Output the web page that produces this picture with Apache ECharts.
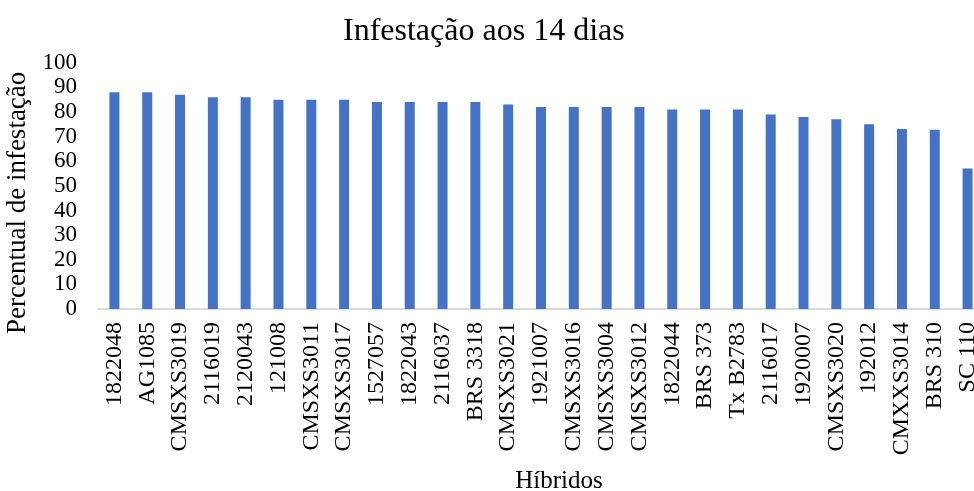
<!DOCTYPE html>
<html>
<head>
<meta charset="utf-8">
<script src="https://cdn.jsdelivr.net/npm/echarts@6/dist/echarts.min.js"></script>
<style>
  html, body { margin: 0; padding: 0; background: #fff; }
  #chart { width: 974px; height: 491px; }
</style>
</head>
<body>
<div id="chart"></div>
<script>
// hybrid names on the x axis
const hybrids = [
  '1822048', 'AG1085', 'CMSXS3019', '2116019', '2120043', '121008',
  'CMSXS3011', 'CMSXS3017', '1527057', '1822043', '2116037', 'BRS 3318',
  'CMSXS3021', '1921007', 'CMSXS3016', 'CMSXS3004', 'CMSXS3012', '1822044',
  'BRS 373', 'Tx B2783', '2116017', '1920007', 'CMSXS3020', '192012',
  'CMXXS3014', 'BRS 310', 'SC 110'
];
// percentual de infestação aos 14 dias
const infestacao = [
  88, 88, 87, 86, 86, 85,
  85, 85, 84, 84, 84, 84,
  83, 82, 82, 82, 82, 81,
  81, 81, 79, 78, 77, 75,
  73.1, 72.8, 57
];
const yTicks = { min: 0, max: 100, interval: 10 };

const font = 'Liberation Serif';
const chart = echarts.init(document.getElementById('chart'));

const option = {
  animation: false,
  title: {
    text: 'Infestação aos 14 dias',
    left: 338,
    top: 11,
    textStyle: { fontFamily: font, fontSize: 32, fontWeight: 'normal', color: '#000' }
  },
  grid: {
    left: 98,
    right: -10,
    top: 62.7,
    bottom: 182,
    outerBoundsMode: 'none'
  },
  xAxis: {
    type: 'category',
    data: hybrids,
    name: 'Híbridos',
    nameLocation: 'middle',
    nameGap: 160,
    nameTextStyle: { fontFamily: font, fontSize: 25, color: '#000', padding: [0, 0, 0, 36] },
    axisLine: { lineStyle: { color: '#d9d9d9', width: 2 } },
    axisTick: { show: false },
    axisLabel: {
      rotate: 90,
      margin: 13,
      interval: 0,
      fontFamily: font,
      fontSize: 24,
      color: '#000'
    }
  },
  yAxis: {
    type: 'value',
    min: yTicks.min,
    max: yTicks.max,
    interval: yTicks.interval,
    name: 'Percentual de infestação',
    nameLocation: 'middle',
    nameRotate: 90,
    nameGap: 67,
    nameTextStyle: { fontFamily: font, fontSize: 27, color: '#000', padding: [0, 34, 0, 0] },
    axisLine: { show: false },
    axisTick: { show: false },
    splitLine: { show: false },
    axisLabel: { margin: 21, fontFamily: font, fontSize: 23, color: '#000' }
  },
  series: [{
    type: 'bar',
    data: infestacao,
    barWidth: 10,
    itemStyle: { color: '#4472C4' }
  }]
};

chart.setOption(option);
</script>
</body>
</html>
